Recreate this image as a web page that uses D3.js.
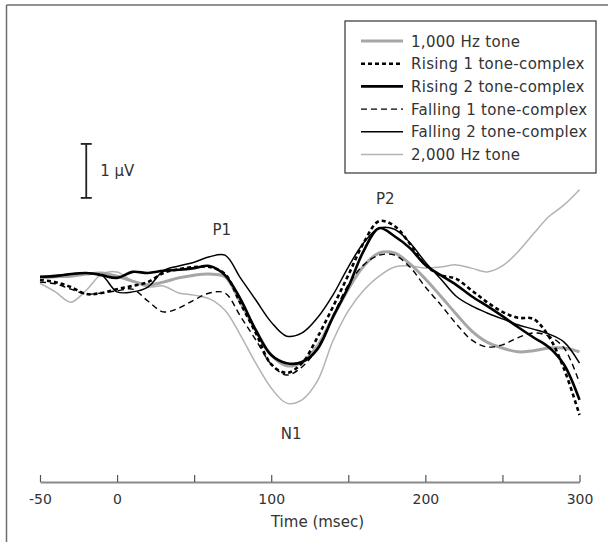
<!DOCTYPE html>
<html>
<head>
<meta charset="utf-8">
<script src="https://cdn.jsdelivr.net/npm/d3@7"></script>
<style>
  body { margin: 0; background: #fff; }
  svg { display: block; font-family: "DejaVu Sans", sans-serif; }
</style>
</head>
<body>
<div id="chart"></div>
<script>
// time grid (msec)
const times = [-50, -40, -30, -20, -10, 0, 10, 20, 30, 40, 50, 60, 70, 80, 90, 100, 110, 120,
               130, 140, 150, 160, 170, 180, 190, 200, 210, 220, 230, 240, 250, 260, 270, 280, 290, 300];

// amplitudes (microvolt), one value per time point
const tone1000 = [0.04, 0.06, 0.07, 0.11, 0.13, 0.07, -0.02, -0.09, -0.04, 0.04, 0.09, 0.11, 0.06, -0.41, -0.93, -1.39, -1.59, -1.52,
                  -1.22, -0.69, -0.17, 0.26, 0.50, 0.50, 0.30, 0.02, -0.30, -0.63, -0.94, -1.15, -1.26, -1.33, -1.31, -1.26, -1.26, -1.33];
const rising1 = [0.00, -0.04, -0.13, -0.26, -0.24, -0.17, -0.11, -0.04, 0.13, 0.20, 0.24, 0.24, 0.11, -0.43, -0.98, -1.56, -1.72, -1.54,
                 -1.06, -0.50, 0.09, 0.69, 1.09, 1.00, 0.67, 0.28, 0.09, 0.02, -0.19, -0.41, -0.59, -0.70, -0.72, -1.04, -1.65, -2.50];
const rising2 = [0.06, 0.07, 0.11, 0.13, 0.09, 0.04, 0.15, 0.13, 0.17, 0.19, 0.22, 0.26, 0.09, -0.35, -0.93, -1.39, -1.54, -1.52,
                 -1.28, -0.69, -0.13, 0.54, 0.96, 0.81, 0.59, 0.28, 0.09, -0.09, -0.30, -0.48, -0.67, -0.87, -1.06, -1.24, -1.57, -2.22];
const falling1 = [-0.04, -0.07, -0.17, -0.26, -0.24, -0.20, -0.17, -0.39, -0.59, -0.52, -0.37, -0.24, -0.24, -0.67, -1.11, -1.56, -1.76, -1.61,
                  -1.26, -0.67, -0.09, 0.28, 0.46, 0.46, 0.24, -0.13, -0.46, -0.81, -1.11, -1.24, -1.20, -1.07, -0.98, -1.04, -1.26, -1.91];
const falling2 = [0.06, 0.09, 0.11, 0.13, 0.09, -0.22, -0.22, -0.13, 0.17, 0.26, 0.33, 0.43, 0.46, 0.04, -0.37, -0.78, -1.04, -0.98,
                  -0.70, -0.28, 0.24, 0.69, 0.96, 0.94, 0.69, 0.33, 0.02, -0.30, -0.48, -0.61, -0.72, -0.83, -0.91, -1.00, -1.15, -1.54];
const tone2000 = [-0.06, -0.22, -0.41, -0.19, 0.11, 0.15, -0.02, -0.13, -0.11, -0.24, -0.28, -0.35, -0.56, -1.02, -1.54, -2.00, -2.28, -2.22,
                  -1.87, -1.13, -0.57, -0.19, 0.07, 0.24, 0.26, 0.22, 0.24, 0.28, 0.22, 0.15, 0.26, 0.52, 0.85, 1.17, 1.39, 1.67];

const seriesNames = ['1,000 Hz tone', 'Rising 1 tone-complex', 'Rising 2 tone-complex',
                     'Falling 1 tone-complex', 'Falling 2 tone-complex', '2,000 Hz tone'];
const tickValues = [-50, 0, 50, 100, 150, 200, 250, 300];
const tickLabels = ['-50', '0', '', '100', '', '200', '', '300'];
const peakLabels = ['P1', 'N1', 'P2'];
const peakTimes = [68, 113, 174];
const peakValues = [0.83, -2.94, 1.41];
const scaleBar = [1.52, 2.52]; // 1 microvolt, drawn at t = -20
const scaleBarTime = -20;

const width = 608;
const height = 542;

function lineStyle(name){
    if (name === '1,000 Hz tone') return {color: '#a6a6a6', w: 3, dash: null};
    if (name === 'Rising 1 tone-complex') return {color: '#000', w: 2.6, dash: '4,3'};
    if (name === 'Rising 2 tone-complex') return {color: '#000', w: 2.6, dash: null};
    if (name === 'Falling 1 tone-complex') return {color: '#000', w: 1.4, dash: '6,4'};
    if (name === 'Falling 2 tone-complex') return {color: '#000', w: 1.5, dash: null};
    return {color: '#b3b3b3', w: 1.5, dash: null};
}

const svg = d3.select('#chart').append('svg')
              .attr('width', width)
              .attr('height', height);

// frame (top and left edges only)
svg.append('line').attr('x1', 6.5).attr('x2', width).attr('y1', 5).attr('y2', 5)
   .attr('stroke', '#6e6e6e').attr('stroke-width', 1.5);
svg.append('line').attr('x1', 6.5).attr('x2', 6.5).attr('y1', 5).attr('y2', height)
   .attr('stroke', '#6e6e6e').attr('stroke-width', 1.5);

const x = d3.scaleLinear().domain([-50, 300]).range([40, 579.5]);
const y = d3.scaleLinear().domain([0, 1]).range([280, 226]);

// x axis
const axis = d3.axisBottom(x)
               .tickValues(tickValues)
               .tickFormat(function(d, i){return tickLabels[i];})
               .tickSizeInner(-7)
               .tickSizeOuter(0)
               .tickPadding(12);
const gx = svg.append('g').attr('transform', 'translate(0,482)').call(axis);
gx.select('.domain').attr('stroke', '#8a8a8a').attr('stroke-width', 2);
gx.selectAll('.tick line').attr('stroke', '#555').attr('stroke-width', 1.2);
gx.selectAll('.tick text').attr('fill', '#333').style('font-size', '14px')
  .style('font-family', '"DejaVu Sans", sans-serif');

svg.append('text').text('Time (msec)')
   .attr('x', x(130)).attr('y', 527)
   .attr('text-anchor', 'middle').attr('fill', '#333').style('font-size', '15px');

// curves
const allSeries = [tone2000, tone1000, falling1, falling2, rising2, rising1];
const drawOrder = ['2,000 Hz tone', '1,000 Hz tone', 'Falling 1 tone-complex',
                   'Falling 2 tone-complex', 'Rising 2 tone-complex', 'Rising 1 tone-complex'];
const line = d3.line()
               .x(function(d){return x(d[0]);})
               .y(function(d){return y(d[1]);})
               .curve(d3.curveCatmullRom.alpha(0.5));

drawOrder.forEach(function(name, i){
    const st = lineStyle(name);
    const pts = times.map(function(t, j){return [t, allSeries[i][j]];});
    svg.append('path')
       .datum(pts)
       .attr('d', line)
       .attr('fill', 'none')
       .attr('stroke', st.color)
       .attr('stroke-width', st.w)
       .attr('stroke-dasharray', st.dash)
       .attr('stroke-linejoin', 'round');
});

// peak labels
svg.selectAll('text.peak')
   .data(peakLabels)
   .enter()
   .append('text')
   .attr('class', 'peak')
   .text(function(d){return d;})
   .attr('x', function(d, i){return x(peakTimes[i]);})
   .attr('y', function(d, i){return y(peakValues[i]);})
   .attr('text-anchor', 'middle')
   .attr('fill', '#333')
   .style('font-size', '15px');

// 1 uV scale bar
const sbx = x(scaleBarTime);
svg.append('line').attr('x1', sbx).attr('x2', sbx)
   .attr('y1', y(scaleBar[0])).attr('y2', y(scaleBar[1]))
   .attr('stroke', '#222').attr('stroke-width', 1.8);
scaleBar.forEach(function(v){
    svg.append('line').attr('x1', sbx - 5.5).attr('x2', sbx + 5.5)
       .attr('y1', y(v)).attr('y2', y(v))
       .attr('stroke', '#222').attr('stroke-width', 1.8);
});
svg.append('text').text('1 μV')
   .attr('x', sbx + 14).attr('y', y((scaleBar[0] + scaleBar[1]) / 2) + 5)
   .attr('fill', '#333').style('font-size', '15px');

// legend
const legend = svg.append('g').attr('transform', 'translate(345,21)');
legend.append('rect').attr('x', 0).attr('y', 0).attr('width', 251).attr('height', 152)
      .attr('fill', '#fff').attr('stroke', '#333').attr('stroke-width', 1.2);
const rows = legend.selectAll('g.row')
                   .data(seriesNames)
                   .enter()
                   .append('g')
                   .attr('transform', function(d, i){return 'translate(0,' + (20 + i * 22.7) + ')';});
rows.append('line')
    .attr('x1', 16).attr('x2', 58).attr('y1', 0).attr('y2', 0)
    .attr('stroke', function(d){return lineStyle(d).color;})
    .attr('stroke-width', function(d){return lineStyle(d).w;})
    .attr('stroke-dasharray', function(d){return lineStyle(d).dash;});
rows.append('text')
    .text(function(d){return d;})
    .attr('x', 66).attr('y', 5.5)
    .attr('fill', '#333')
    .style('font-size', '15px')
    .style('letter-spacing', '0.3px');
</script>
</body>
</html>
